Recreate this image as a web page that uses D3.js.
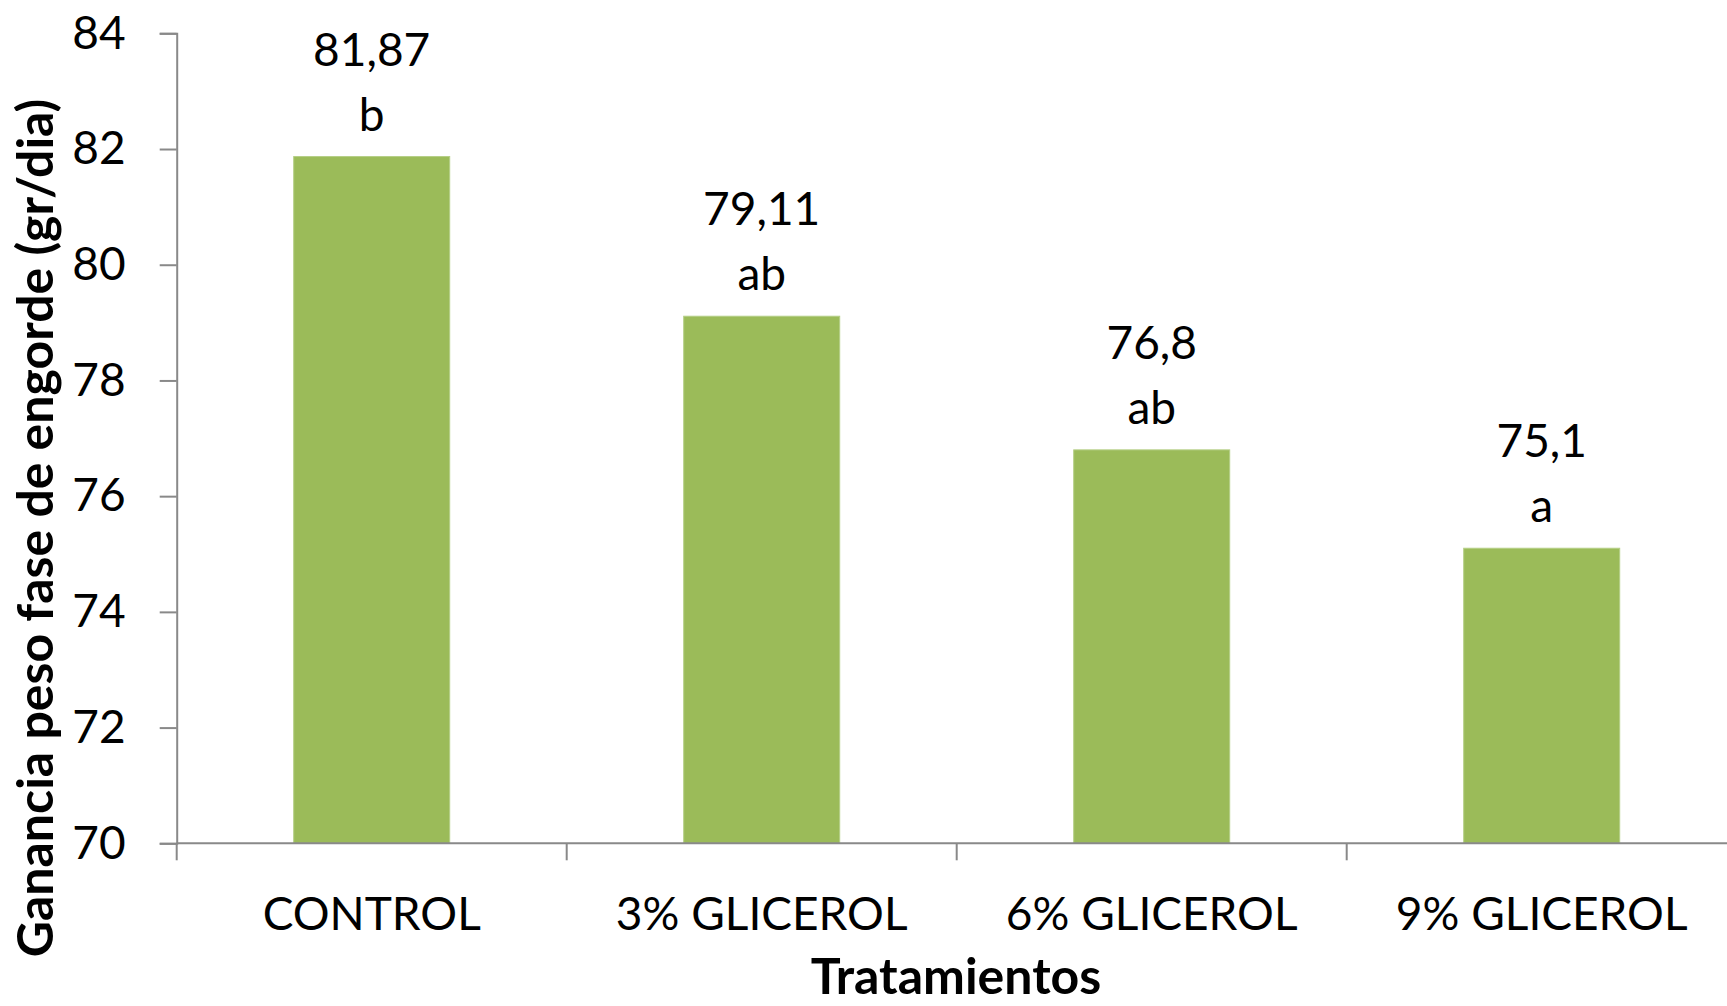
<!DOCTYPE html>
<html>
<head>
<meta charset="utf-8">
<script src="https://cdn.jsdelivr.net/npm/d3@7"></script>
<style>
  html, body { margin: 0; padding: 0; background: #fff; }
  svg { display: block; }
  text { font-family: Lato, "Open Sans", sans-serif; fill: #000; }
</style>
</head>
<body>
<svg id="chart" width="1727" height="1006"></svg>
<script>
// Weight gain per treatment, with significance letters
const categories = ["CONTROL", "3% GLICEROL", "6% GLICEROL", "9% GLICEROL"];
const values = [81.87, 79.11, 76.8, 75.1];
const valueLabels = ["81,87", "79,11", "76,8", "75,1"];
const letters = ["b", "ab", "ab", "a"];
const yTicks = [70, 72, 74, 76, 78, 80, 82, 84];
const xTitle = "Tratamientos";
const yTitle = "Ganancia peso fase de engorde (gr/dia)";

const svg = d3.select("#chart");
const margin = { left: 176.7, top: 33.3, right: 1736.7, bottom: 843.3 };

const x = d3.scaleBand()
  .domain(categories)
  .range([margin.left, margin.right])
  .paddingInner(0.6)
  .paddingOuter(0.3);

const y = d3.scaleLinear()
  .domain([70, 84])
  .range([margin.bottom, margin.top]);

const axisColor = "#898989";

// Bars
svg.append("g")
  .selectAll("rect")
  .data(values)
  .join("rect")
  .attr("x", (d, i) => x(categories[i]))
  .attr("y", d => y(d))
  .attr("width", x.bandwidth())
  .attr("height", d => y(70) - y(d))
  .attr("fill", "#9BBB59")
  .attr("stroke", "#b5cf86")
  .attr("stroke-width", 1);

// Y axis
const yAxis = svg.append("g")
  .attr("transform", `translate(${margin.left},0)`)
  .call(d3.axisLeft(y).tickValues(yTicks).tickSize(17).tickPadding(34).tickFormat(d3.format("d")));
yAxis.select(".domain").attr("stroke", axisColor).attr("stroke-width", 2);
yAxis.selectAll(".tick line").attr("stroke", axisColor).attr("stroke-width", 2);
yAxis.selectAll(".tick text")
  .attr("font-size", 46)
  .attr("font-family", "Lato, 'Open Sans', sans-serif")
  .attr("fill", "#000");

// X axis: ticks between categories
const boundaries = d3.range(categories.length + 1).map(i => margin.left + i * x.step());
const xg = svg.append("g");
xg.append("line")
  .attr("x1", margin.left).attr("x2", margin.right)
  .attr("y1", y(70)).attr("y2", y(70))
  .attr("stroke", axisColor).attr("stroke-width", 2);
xg.selectAll("line.tick")
  .data(boundaries)
  .join("line")
  .attr("class", "tick")
  .attr("x1", d => d).attr("x2", d => d)
  .attr("y1", y(70)).attr("y2", y(70) + 17)
  .attr("stroke", axisColor).attr("stroke-width", 2);
xg.selectAll("text")
  .data(categories)
  .join("text")
  .attr("x", d => x(d) + x.bandwidth() / 2)
  .attr("y", 930)
  .attr("text-anchor", "middle")
  .attr("font-size", 46)
  .text(d => d);

// Value labels and letters above bars
const lab = svg.append("g");
values.forEach((v, i) => {
  const cx = x(categories[i]) + x.bandwidth() / 2;
  const base = y(v) - 26;
  lab.append("text")
    .attr("x", cx).attr("y", base - 65)
    .attr("text-anchor", "middle")
    .attr("font-size", 46)
    .text(valueLabels[i]);
  lab.append("text")
    .attr("x", cx).attr("y", base)
    .attr("text-anchor", "middle")
    .attr("font-size", 46)
    .text(letters[i]);
});

// Axis titles
svg.append("text")
  .attr("x", 956).attr("y", 994)
  .attr("text-anchor", "middle")
  .attr("font-size", 50)
  .attr("font-weight", "bold")
  .text(xTitle);

svg.append("text")
  .attr("transform", "translate(53,528) rotate(-90)")
  .attr("text-anchor", "middle")
  .attr("font-size", 50)
  .attr("font-weight", "bold")
  .text(yTitle);
</script>
</body>
</html>
